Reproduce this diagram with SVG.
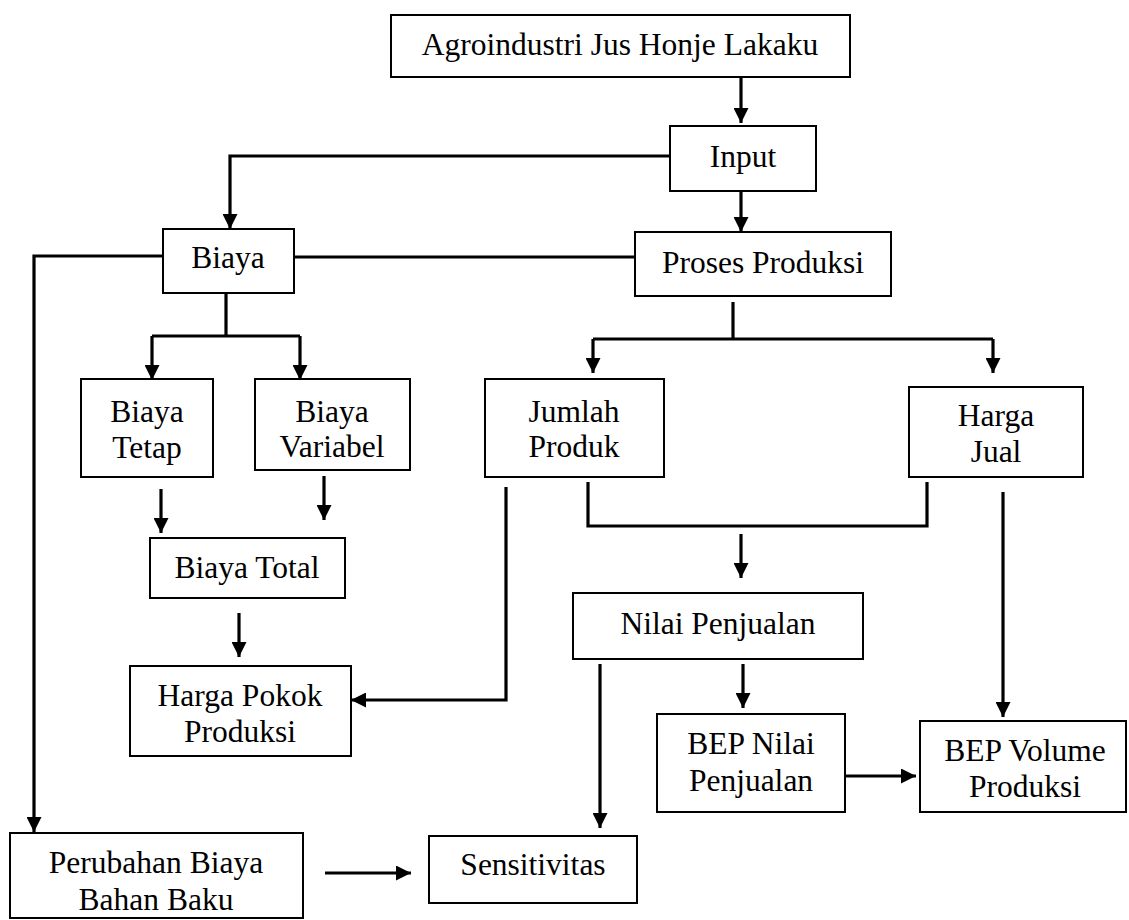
<svg xmlns="http://www.w3.org/2000/svg" width="1129" height="920" viewBox="0 0 1129 920">
<defs>
<marker id="ah" markerUnits="userSpaceOnUse" markerWidth="15" markerHeight="15" refX="15" refY="7.5" orient="auto">
<path d="M0,0 L15,7.5 L0,15 z" fill="#000"/>
</marker>
<style>
.box{fill:#fff;stroke:#000;stroke-width:2}
.t{font-family:"Liberation Serif","Times New Roman",serif;font-size:31.5px;fill:#000;text-anchor:middle}
.c{fill:none;stroke:#000;stroke-width:3.2;stroke-linejoin:miter}
.a{marker-end:url(#ah)}
</style>
</defs>
<rect width="1129" height="920" fill="#fff"/>
<g id="connectors">
<path class="c a" d="M741,77 V123"/>
<path class="c a" d="M741,191 V232"/>
<path class="c a" d="M670,156 H230 V229"/>
<path class="c" d="M294,257 H635"/>
<path class="c a" d="M163,256 H34 V832"/>
<path class="c" d="M226,293 V336"/>
<path class="c" d="M152,336 H300"/>
<path class="c a" d="M152,336 V380"/>
<path class="c a" d="M300,336 V380"/>
<path class="c" d="M733,302 V339"/>
<path class="c" d="M593,339 H993"/>
<path class="c a" d="M593,339 V373"/>
<path class="c a" d="M993,339 V373"/>
<path class="c a" d="M161,489 V533"/>
<path class="c a" d="M324,476 V520"/>
<path class="c a" d="M239,613 V657"/>
<path class="c a" d="M506,487 V700 H351"/>
<path class="c" d="M588,482 V526 H927 V482"/>
<path class="c a" d="M741,534 V578"/>
<path class="c a" d="M600,664 V828"/>
<path class="c a" d="M743,664 V708"/>
<path class="c a" d="M842,776 H916"/>
<path class="c a" d="M1003,492 V717"/>
<path class="c a" d="M325,873 H411"/>
</g>
<g id="agro"><rect class="box" x="391" y="15" width="459" height="62"/><text class="t" x="620" y="55">Agroindustri Jus Honje Lakaku</text></g>
<g id="input"><rect class="box" x="670" y="126" width="146" height="65"/><text class="t" x="743" y="167">Input</text></g>
<g id="biaya"><rect class="box" x="163" y="229" width="131" height="64"/><text class="t" x="228" y="268">Biaya</text></g>
<g id="proses"><rect class="box" x="635" y="232" width="256" height="64"/><text class="t" x="763" y="273">Proses Produksi</text></g>
<g id="tetap"><rect class="box" x="81" y="379" width="132" height="98"/><text class="t" x="147" y="422">Biaya</text><text class="t" x="147" y="458">Tetap</text></g>
<g id="variabel"><rect class="box" x="255" y="379" width="155" height="91"/><text class="t" x="332" y="422">Biaya</text><text class="t" x="332" y="457">Variabel</text></g>
<g id="jumlah"><rect class="box" x="485" y="379" width="179" height="98"/><text class="t" x="574" y="422">Jumlah</text><text class="t" x="574" y="457">Produk</text></g>
<g id="hargajual"><rect class="box" x="909" y="387" width="174" height="90"/><text class="t" x="996" y="426">Harga</text><text class="t" x="996" y="462">Jual</text></g>
<g id="total"><rect class="box" x="150" y="538" width="195" height="60"/><text class="t" x="247" y="578">Biaya Total</text></g>
<g id="hpp"><rect class="box" x="130" y="666" width="221" height="90"/><text class="t" x="240" y="706">Harga Pokok</text><text class="t" x="240" y="742">Produksi</text></g>
<g id="nilai"><rect class="box" x="573" y="593" width="290" height="66"/><text class="t" x="718" y="634">Nilai Penjualan</text></g>
<g id="bepnilai"><rect class="box" x="657" y="714" width="188" height="98"/><text class="t" x="751" y="754">BEP Nilai</text><text class="t" x="751" y="791">Penjualan</text></g>
<g id="bepvolume"><rect class="box" x="920" y="721" width="206" height="91"/><text class="t" x="1025" y="761">BEP Volume</text><text class="t" x="1025" y="797">Produksi</text></g>
<g id="perubahan"><rect class="box" x="10" y="833" width="293" height="85"/><text class="t" x="156" y="873">Perubahan Biaya</text><text class="t" x="156" y="910">Bahan Baku</text></g>
<g id="sensitivitas"><rect class="box" x="429" y="836" width="208" height="67"/><text class="t" x="533" y="875">Sensitivitas</text></g>
</svg>
